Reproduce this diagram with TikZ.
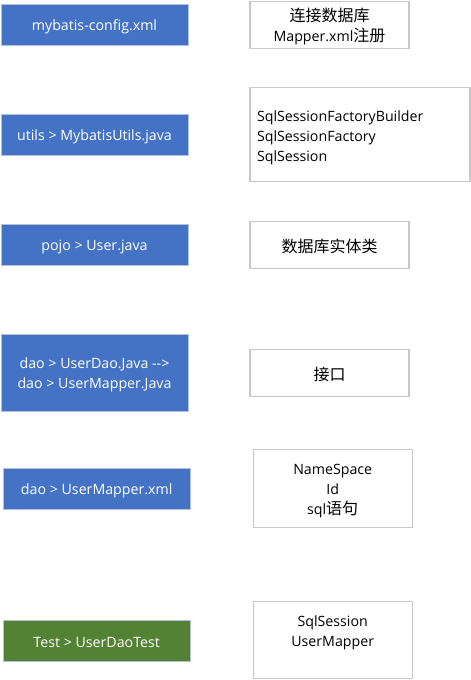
\documentclass[tikz,border=0pt]{standalone}
\usepackage{fontspec}
\setmainfont{Open Sans}
\newfontfamily\cjkfont{Noto Sans CJK SC}
\newcommand{\zh}[1]{{\cjkfont\fontsize{16}{20}\selectfont #1}}
\definecolor{blueFill}{HTML}{4472C4}
\definecolor{greenFill}{HTML}{548235}
\definecolor{boxLine}{HTML}{C8C8C8}
\definecolor{blueLine}{HTML}{B4C0D4}
\begin{document}
\begin{tikzpicture}[x=1pt,y=-1pt,
  every node/.style={inner sep=0pt, outer sep=0pt, font=\fontsize{14.2}{20}\selectfont},
  txt/.style={align=center, yshift=-2pt},
  filebox/.style={draw=blueLine, line width=1pt, fill=blueFill, text=white, minimum width=187pt},
  testbox/.style={draw=blueLine, line width=1pt, fill=greenFill, text=white, minimum width=187pt},
  notebox/.style={draw=boxLine, line width=1.2pt, fill=white, text=black}
]
\useasboundingbox (0,0) rectangle (471,680);
% left column
\node[filebox, minimum height=41pt, label={[txt, text=white]center:{mybatis-config.xml}}] (f1) at (94.5,24.8) {};
\node[filebox, minimum height=41pt, label={[txt, text=white]center:{utils > MybatisUtils.java}}] (f2) at (94.5,134.8) {};
\node[filebox, minimum height=41pt, label={[txt, text=white]center:{pojo > User.java}}] (f3) at (94.5,244.8) {};
\node[filebox, minimum height=77pt, label={[txt, text=white]center:{dao > UserDao.Java -{}->\\dao > UserMapper.Java}}] (f4) at (94.5,373) {};
\node[filebox, minimum height=41pt, label={[txt, text=white]center:{dao > UserMapper.xml}}] (f5) at (96.7,488.8) {};
\node[testbox, minimum height=41pt, label={[txt, text=white]center:{Test > UserDaoTest}}] (f6) at (96.7,640.5) {};
% right column
\node[notebox, minimum width=159pt, minimum height=47pt, label={[txt]center:{\zh{连接数据库}\\Mapper.xml\zh{注册}}}] (n1) at (329.5,24.8) {};
\node[notebox, minimum width=220pt, minimum height=94pt] (n2) at (360,134.7) {};
\node[anchor=west, align=left] (t2) at (257,137.5) {SqlSessionFactoryBuilder\\SqlSessionFactory\\SqlSession};
\node[notebox, minimum width=159pt, minimum height=47pt, label={[txt]center:{\zh{数据库实体类}}}] (n3) at (329.5,244.8) {};
\node[notebox, minimum width=159pt, minimum height=47pt, label={[txt]center:{\zh{接口}}}] (n4) at (329.5,372.8) {};
\node[notebox, minimum width=159pt, minimum height=78pt, label={[txt]center:{NameSpace\\Id\\sql\zh{语句}}}] (n5) at (332.7,488.8) {};
\node[notebox, minimum width=159pt, minimum height=77pt] (n6) at (332.7,640.3) {};
\node[align=center] (t6) at (332.7,633.3) {SqlSession\\UserMapper};
\end{tikzpicture}
\end{document}
